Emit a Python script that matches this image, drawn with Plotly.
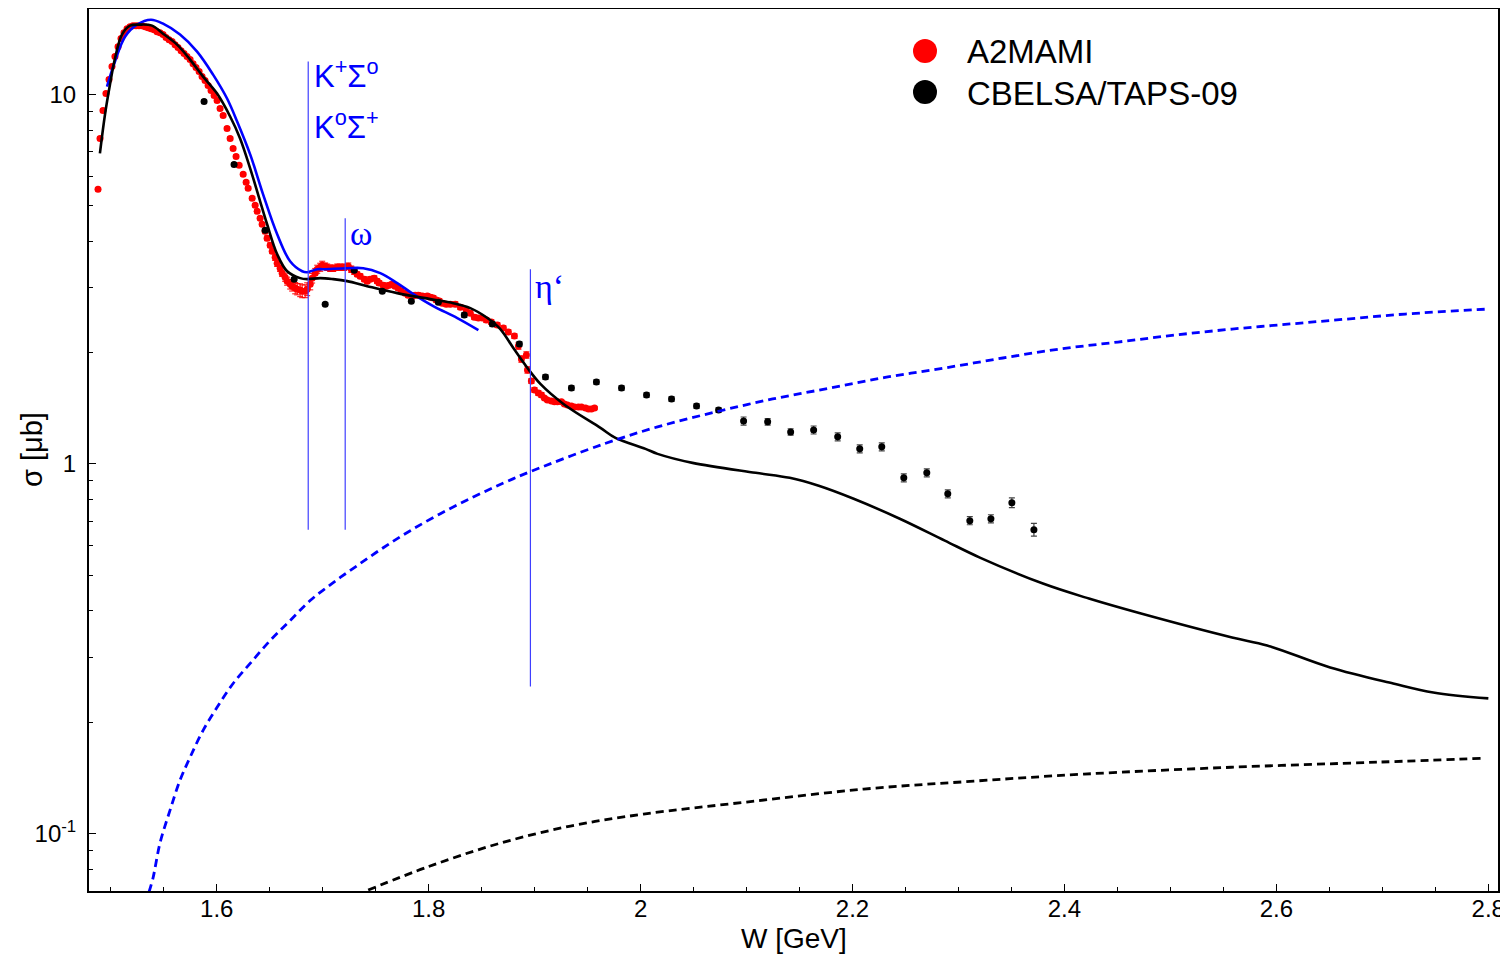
import plotly.graph_objects as go

# ---------------- data ----------------
# model curve (black solid)
model_W = [1.4897, 1.4945, 1.4992, 1.5039, 1.5105, 1.5181, 1.5275, 1.5389, 1.5493, 1.5625,
           1.5748, 1.5871, 1.6003, 1.6126, 1.6220, 1.6315, 1.6409, 1.6475, 1.6570, 1.6664,
           1.6787, 1.6853, 1.6976, 1.7099, 1.7231, 1.7420, 1.7703, 1.8015, 1.8232, 1.8393,
           1.8554, 1.8676, 1.8799, 1.8932, 1.9054, 1.9272, 1.9621, 1.9763, 2.0046, 2.0160,
           2.0490, 2.1086, 2.1407, 2.1681, 2.2011, 2.2446, 2.2871, 2.3202, 2.3797, 2.4231,
           2.4723, 2.5582, 2.5913, 2.6508, 2.7103, 2.7481, 2.8001]
model_sigma = [6.916, 8.814, 10.62, 12.49, 14.50, 15.33, 15.43, 15.33, 14.58, 13.62,
               12.41, 11.16, 10.04, 8.705, 7.593, 6.300, 5.132, 4.448, 3.691, 3.320,
               3.180, 3.160, 3.180, 3.160, 3.121, 3.025, 2.896, 2.790, 2.721, 2.638,
               2.480, 2.315, 2.057, 1.817, 1.645, 1.452, 1.251, 1.1755, 1.0978, 1.064,
               1.006, 0.9456, 0.9166, 0.8722, 0.8043, 0.7103, 0.6197, 0.5576, 0.4742, 0.4319,
               0.3934, 0.3389, 0.3225, 0.2812, 0.2545, 0.2407, 0.2319]

# fit curve (blue solid)
fit_W = [1.4964, 1.5039, 1.5134, 1.5247, 1.5379, 1.5493, 1.5653, 1.5814, 1.5965, 1.6097,
         1.6192, 1.6315, 1.6437, 1.6570, 1.6692, 1.6806, 1.6853, 1.6948, 1.7004, 1.7231,
         1.7382, 1.7543, 1.7703, 1.7855, 1.8043, 1.8270, 1.8469]
fit_sigma = [10.49, 12.26, 14.31, 15.43, 15.91, 15.52, 14.50, 13.04, 11.30, 9.736,
             8.438, 6.874, 5.361, 4.180, 3.533, 3.320, 3.300, 3.362, 3.362, 3.383,
             3.383, 3.280, 3.083, 2.878, 2.671, 2.480, 2.301]

# blue dashed curve
bdash_W = [1.5360, 1.5398, 1.5464, 1.5559, 1.5653, 1.5748, 1.5871, 1.6003, 1.6154, 1.6315,
           1.6504, 1.6692, 1.6881, 1.7099, 1.7325, 1.7571, 1.7826, 1.8110, 1.8421, 1.8705,
           1.8960, 1.9650, 2.0160, 2.0708, 2.1246, 2.1794, 2.2333, 2.2871, 2.3419, 2.3957,
           2.4505, 2.5044, 2.5582, 2.6130, 2.6669, 2.7217, 2.8001]
bdash_sigma = [0.0694, 0.0757, 0.09415, 0.1156, 0.1393, 0.1607, 0.1901, 0.2194, 0.2545, 0.2884,
               0.3327, 0.3767, 0.4266, 0.4772, 0.5303, 0.5929, 0.6593, 0.7328, 0.8131, 0.8870,
               0.9528, 1.131, 1.2589, 1.3816, 1.4978, 1.6043, 1.7180, 1.817, 1.9334, 2.0446,
               2.1356, 2.2306, 2.315, 2.3899, 2.4647, 2.5426, 2.6230]

# black dashed curve
kdash_W = [1.7429, 1.7987, 1.8648, 1.9338, 2.0027, 2.1000, 2.2106, 2.3145, 2.4184, 2.5573,
           2.6962, 2.7963]
kdash_sigma = [0.07028, 0.08110, 0.09363, 0.1047, 0.1128, 0.1216, 0.1318, 0.1385, 0.1447, 0.1510,
               0.1559, 0.1598]

# CBELSA/TAPS-09 data
cb_W = [1.5880, 1.6163, 1.6456, 1.6730, 1.7023, 1.7297, 1.7562, 1.7836, 1.8091, 1.8336,
        1.8601, 1.8856, 1.9102, 1.9347, 1.9583, 1.9820, 2.0056, 2.0292, 2.0528, 2.0736,
        2.0972, 2.1199, 2.1416, 2.1633, 2.1860, 2.2068, 2.2276, 2.2484, 2.2701, 2.2899,
        2.3107, 2.3306, 2.3504, 2.3712]
cb_sigma = [9.556, 6.459, 4.284, 3.160, 2.704, 3.341, 2.932, 2.755, 2.738, 2.526,
            2.390, 2.110, 1.718, 1.604, 1.665, 1.604, 1.536, 1.498, 1.434, 1.399,
            1.306, 1.299, 1.220, 1.235, 1.183, 1.098, 1.112, 0.9166, 0.9456, 0.8299,
            0.7018, 0.7103, 0.7852, 0.6636]
cb_err_pct = [1, 1, 1, 1, 1, 1, 1, 1, 1, 1.5,
              1.5, 1.5, 1.5, 1.5, 1.5, 1.5, 1.5, 1.5, 1.5, 1.5,
              2.5, 2, 2, 2.5, 2.5, 2.5, 2.5, 2.5, 2.5, 2.5,
              2.5, 2.5, 3, 4]

# A2MAMI data
a2_W = [1.4879, 1.4898, 1.4926, 1.4954, 1.4983, 1.5011, 1.5039, 1.5068, 1.5096, 1.5124,
        1.5153, 1.5181, 1.5209, 1.5238, 1.5266, 1.5294, 1.5323, 1.5351, 1.5379, 1.5408,
        1.5436, 1.5464, 1.5493, 1.5521, 1.5549, 1.5578, 1.5606, 1.5634, 1.5663, 1.5691,
        1.5719, 1.5748, 1.5776, 1.5804, 1.5833, 1.5861, 1.5889, 1.5918, 1.5946, 1.5975,
        1.6003, 1.6031, 1.6060, 1.6097, 1.6126, 1.6154, 1.6182, 1.6211, 1.6249, 1.6277,
        1.6296, 1.6334, 1.6362, 1.6381, 1.6409, 1.6428, 1.6456, 1.6475, 1.6504, 1.6523,
        1.6551, 1.6570, 1.6598, 1.6617, 1.6645, 1.6664, 1.6693, 1.6711, 1.6740, 1.6759,
        1.6787, 1.6806, 1.6834, 1.6853, 1.6882, 1.6900, 1.6929, 1.6948, 1.6976, 1.6995,
        1.7023, 1.7042, 1.7070, 1.7099, 1.7137, 1.7165, 1.7203, 1.7241, 1.7269, 1.7297,
        1.7325, 1.7354, 1.7392, 1.7420, 1.7448, 1.7486, 1.7514, 1.7533, 1.7571, 1.7599,
        1.7628, 1.7656, 1.7684, 1.7713, 1.7741, 1.7779, 1.7807, 1.7845, 1.7873, 1.7902,
        1.7940, 1.7987, 1.8015, 1.8044, 1.8072, 1.8100, 1.8129, 1.8166, 1.8204, 1.8251,
        1.8299, 1.8355, 1.8393, 1.8431, 1.8469, 1.8506, 1.8544, 1.8591, 1.8648, 1.8705,
        1.8752, 1.8809, 1.8847, 1.8875, 1.8922, 1.8932, 1.8969, 1.8998, 1.9035, 1.9064,
        1.9092, 1.9120, 1.9158, 1.9187, 1.9215, 1.9253, 1.9281, 1.9309, 1.9347, 1.9376,
        1.9413, 1.9442, 1.9480, 1.9508, 1.9536, 1.9565]
a2_sigma = [5.530, 7.593, 9.035, 10.04, 10.96, 11.88, 12.64, 13.45, 14.14, 14.67,
            15.04, 15.23, 15.33, 15.33, 15.33, 15.33, 15.23, 15.14, 15.04, 14.95,
            14.77, 14.67, 14.50, 14.23, 14.05, 13.88, 13.62, 13.37, 13.12, 12.88,
            12.64, 12.41, 12.10, 11.81, 11.52, 11.16, 10.89, 10.56, 10.23, 9.920,
            9.616, 9.148, 8.759, 8.082, 7.593, 7.136, 6.789, 6.421, 6.070, 5.775,
            5.565, 5.230, 5.006, 4.823, 4.616, 4.448, 4.258, 4.077, 3.903, 3.761,
            3.623, 3.490, 3.383, 3.280, 3.199, 3.121, 3.063, 3.025, 2.988, 2.969,
            2.951, 2.932, 2.932, 2.969, 3.063, 3.180, 3.280, 3.362, 3.404, 3.447,
            3.426, 3.404, 3.383, 3.383, 3.404, 3.404, 3.404, 3.426, 3.362, 3.320,
            3.259, 3.219, 3.160, 3.121, 3.160, 3.180, 3.121, 3.083, 3.044, 3.025,
            3.044, 3.063, 3.025, 2.988, 2.932, 2.896, 2.860, 2.843, 2.860, 2.860,
            2.843, 2.843, 2.825, 2.808, 2.773, 2.756, 2.721, 2.704, 2.704, 2.704,
            2.654, 2.605, 2.557, 2.494, 2.479, 2.479, 2.448, 2.418, 2.373, 2.329,
            2.272, 2.216, 2.083, 1.921, 1.970, 1.795, 1.675, 1.585, 1.555, 1.536,
            1.507, 1.489, 1.480, 1.471, 1.471, 1.471, 1.452, 1.443, 1.434, 1.425,
            1.425, 1.425, 1.416, 1.408, 1.408, 1.416]
a2_err_pct = [1, 1, 1, 1, 1, 1, 1, 1, 1, 1,
              1, 1, 1, 1, 1, 1, 1, 1, 1, 1,
              1, 1, 1, 1, 1, 1, 1, 1, 1, 1,
              1, 1, 1, 1, 1, 1, 1, 1, 1, 1,
              1, 1, 1, 1, 1, 1, 1, 1, 1, 1,
              1, 1, 1, 1, 1, 1, 1.5, 1.5, 1.5, 1.5,
              2, 2, 2, 2, 2.5, 2.5, 3, 3, 3.5, 3.5,
              4, 4, 4, 4, 3.5, 3, 3, 2.5, 2.5, 2.5,
              2, 2, 2, 2, 2, 2, 2, 2, 2, 2,
              1.5, 1.5, 1.5, 1.5, 1.5, 1.5, 1.5, 1.5, 1.5, 1.5,
              1.5, 1.5, 1.5, 1.5, 1.5, 1.5, 1.5, 1.5, 1.5, 1.5,
              1.5, 1.5, 1.5, 1.5, 1.5, 1.5, 1.5, 1.5, 1.5, 1.5,
              1.5, 1.5, 1.5, 1.5, 1.5, 1.5, 1.5, 1.5, 1.5, 1.5,
              1.5, 1.5, 2, 2, 2, 2, 1.5, 1.5, 1.5, 1.5,
              1, 1, 1, 1, 1, 1, 1, 1, 1, 1,
              1, 1, 1, 1, 1, 1]

# thresholds
thr_W = [1.6863, 1.7212, 1.8960]
thr_top = [12.26, 4.616, 3.362]
thr_bottom = [0.6634, 0.6634, 0.2499]

x_ticks = [1.6, 1.8, 2.0, 2.2, 2.4, 2.6, 2.8]
x_ticktext = ["1.6", "1.8", "2", "2.2", "2.4", "2.6", "2.8"]
y_ticks = [0.1, 1, 10]
y_ticktext = ["10<sup>-1</sup>", "1", "10"]
y_minor = [0.08, 0.09, 0.2, 0.3, 0.4, 0.5, 0.6, 0.7, 0.8, 0.9,
           2, 3, 4, 5, 6, 7, 8, 9]

# ---------------- figure ----------------
OFF = 8                       # page body margin of the browser
W_FIG, H_FIG = 1500, 947
ML, MR, MT, MB = 81, 10, 1, 64
PW, PH = W_FIG - ML - MR, H_FIG - MT - MB


def px(x):
    """screen x -> paper x"""
    return (x - OFF - ML) / PW


def py(y):
    """screen y -> paper y"""
    return (H_FIG - MB - (y - OFF)) / PH


FONT = "Arial, Liberation Sans, Helvetica, sans-serif"
SERIF = "Liberation Serif, Times New Roman, DejaVu Serif, serif"

fig = go.Figure()

fig.add_trace(go.Scatter(
    x=a2_W, y=a2_sigma, mode="markers",
    marker=dict(color="#ff0000", size=7),
    error_y=dict(type="data", array=[s * p / 100 for s, p in zip(a2_sigma, a2_err_pct)],
                 color="#ff0000", thickness=1, width=3),
    showlegend=False))

fig.add_trace(go.Scatter(
    x=cb_W, y=cb_sigma, mode="markers",
    marker=dict(color="#000000", size=7),
    error_y=dict(type="data", array=[s * p / 100 for s, p in zip(cb_sigma, cb_err_pct)],
                 color="#444444", thickness=1.2, width=3),
    showlegend=False))

fig.add_trace(go.Scatter(x=fit_W, y=fit_sigma, mode="lines",
                         line=dict(color="#0000ff", width=2.6, shape="spline"), showlegend=False))
fig.add_trace(go.Scatter(x=model_W, y=model_sigma, mode="lines",
                         line=dict(color="#000000", width=2.6, shape="spline"), showlegend=False))
fig.add_trace(go.Scatter(x=bdash_W, y=bdash_sigma, mode="lines",
                         line=dict(color="#0000ff", width=2.8, dash="8px,5px", shape="spline"), showlegend=False))
fig.add_trace(go.Scatter(x=kdash_W, y=kdash_sigma, mode="lines",
                         line=dict(color="#000000", width=2.8, dash="8px,5px", shape="spline"), showlegend=False))

for w, t, b in zip(thr_W, thr_top, thr_bottom):
    fig.add_trace(go.Scatter(x=[w, w], y=[b, t], mode="lines",
                             line=dict(color="#3f3fff", width=1.2), showlegend=False))

annotations = [
    dict(text="K<sup>+</sup>Σ<sup>o</sup>", x=px(312), y=py(74), xanchor="left", yanchor="middle",
         font=dict(family=FONT, size=31, color="#0000ff")),
    dict(text="K<sup>o</sup>Σ<sup>+</sup>", x=px(312), y=py(125), xanchor="left", yanchor="middle",
         font=dict(family=FONT, size=31, color="#0000ff")),
    dict(text="ω", x=px(348), y=py(233), xanchor="left", yanchor="middle",
         font=dict(family=SERIF, size=34, color="#0000ff")),
    dict(text="η‘", x=px(533), y=py(286), xanchor="left", yanchor="middle",
         font=dict(family=SERIF, size=34, color="#0000ff")),
    dict(text="A2MAMI", x=px(965), y=py(51), xanchor="left", yanchor="middle",
         font=dict(family=FONT, size=33, color="#000000")),
    dict(text="CBELSA/TAPS-09", x=px(965), y=py(93), xanchor="left", yanchor="middle",
         font=dict(family=FONT, size=33, color="#000000")),
    dict(text="W [GeV]", x=px(794), y=py(938), xanchor="center", yanchor="middle",
         font=dict(family=FONT, size=28, color="#000000")),
    dict(text="σ [μb]", x=px(32), y=py(450), xanchor="center", yanchor="middle", textangle=-90,
         font=dict(family=FONT, size=29, color="#000000")),
]
for a in annotations:
    a.update(xref="paper", yref="paper", showarrow=False)

shapes = []
for cy, col in [(51, "#ff0000"), (92, "#000000")]:
    shapes.append(dict(type="circle", xref="paper", yref="paper", xsizemode="pixel", ysizemode="pixel",
                       xanchor=px(925), yanchor=py(cy), x0=-12, x1=12, y0=-12, y1=12,
                       fillcolor=col, line=dict(width=0)))

fig.update_layout(
    width=W_FIG, height=H_FIG,
    margin=dict(l=ML, r=MR, t=MT, b=MB, autoexpand=False),
    paper_bgcolor="white", plot_bgcolor="white",
    font=dict(family=FONT, size=24, color="#000000"),
    annotations=annotations, shapes=shapes,
    showlegend=False,
)
fig.update_xaxes(
    range=[1.4794, 2.8092], tickvals=x_ticks, ticktext=x_ticktext,
    ticks="inside", ticklen=7, tickwidth=1.2, tickcolor="#000",
    minor=dict(dtick=0.05, tick0=1.6, ticks="inside", ticklen=4, tickwidth=1, tickcolor="#000", showgrid=False),
    showline=True, linewidth=2, linecolor="#000", mirror=True, showgrid=False, zeroline=False,
    tickfont=dict(family=FONT, size=24), ticklabelstandoff=-5,
)
fig.update_yaxes(
    type="log", range=[-1.1558, 1.2306], tickvals=y_ticks, ticktext=y_ticktext,
    ticks="inside", ticklen=7, tickwidth=1.2, tickcolor="#000",
    minor=dict(tickvals=y_minor, ticks="inside", ticklen=4, tickwidth=1, tickcolor="#000", showgrid=False),
    showline=True, linewidth=2, linecolor="#000", mirror=True, showgrid=False, zeroline=False,
    tickfont=dict(family=FONT, size=24), ticklabelstandoff=6,
)

fig.write_html("out.html")
